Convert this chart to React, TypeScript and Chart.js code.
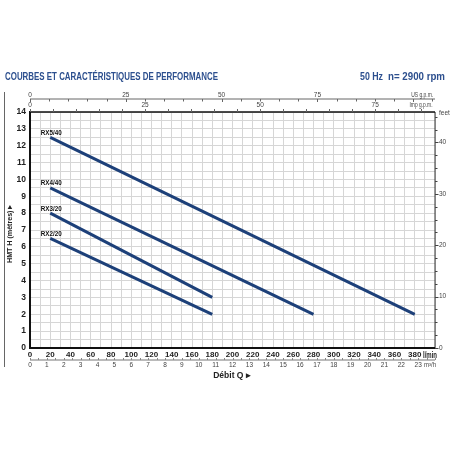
import React, { useEffect, useRef } from 'react';
import { Chart, registerables } from 'chart.js';

Chart.register(...registerables);

// Pump models and their straight-line H/Q curves (flow in l/min, head in metres)
const modelNames = ['RX5/40', 'RX4/40', 'RX3/20', 'RX2/20'];
const rx540Flow = [20, 380];
const rx540Head = [12.5, 2];
const rx440Flow = [20, 280];
const rx440Head = [9.5, 2];
const rx320Flow = [20, 180];
const rx320Head = [8, 3];
const rx220Flow = [20, 180];
const rx220Head = [6.5, 2];

// Secondary scale labels
const usGpmLabels = [0, 25, 50, 75];
const impGpmLabels = [0, 25, 50, 75];
const m3hLabels = [0, 1, 2, 3, 4, 5, 6, 7, 8, 9, 10, 11, 12, 13, 14, 15, 16, 17, 18, 19, 20, 21, 22, 23];
const feetLabels = [0, 10, 20, 30, 40];

// Unit conversions
const L_PER_US_GAL = 3.785;
const L_PER_IMP_GAL = 4.546;
const LMIN_PER_M3H = 1000 / 60;
const M_PER_FT = 0.3048;

const FLOW_MAX = 400;
const HEAD_MAX = 14;

const NARROW = '"Liberation Sans Narrow", "Liberation Sans", Arial, sans-serif';
const SANS = '"Liberation Sans", Arial, sans-serif';
const LINE_COLOR = '#1d4079';
const TITLE_COLOR = '#2c4f8e';
const GRID_COLOR = '#d6d6d6';

const series = [
  { flow: rx540Flow, head: rx540Head },
  { flow: rx440Flow, head: rx440Head },
  { flow: rx320Flow, head: rx320Head },
  { flow: rx220Flow, head: rx220Head },
];

function text(
  ctx: CanvasRenderingContext2D,
  s: string,
  x: number,
  y: number,
  font: string,
  color: string,
  align: CanvasTextAlign = 'center',
  maxWidth?: number
) {
  ctx.font = font;
  ctx.fillStyle = color;
  ctx.textAlign = align;
  ctx.textBaseline = 'middle';
  if (maxWidth) ctx.fillText(s, x, y, maxWidth);
  else ctx.fillText(s, x, y);
}

function hline(ctx: CanvasRenderingContext2D, x1: number, x2: number, y: number, w: number, c: string) {
  ctx.beginPath();
  ctx.strokeStyle = c;
  ctx.lineWidth = w;
  ctx.moveTo(x1, y);
  ctx.lineTo(x2, y);
  ctx.stroke();
}

function vline(ctx: CanvasRenderingContext2D, x: number, y1: number, y2: number, w: number, c: string) {
  ctx.beginPath();
  ctx.strokeStyle = c;
  ctx.lineWidth = w;
  ctx.moveTo(x, y1);
  ctx.lineTo(x, y2);
  ctx.stroke();
}

const framePlugin = {
  id: 'frame',
  beforeDatasetsDraw(chart: any) {
    const { ctx, chartArea: a } = chart;
    ctx.save();
    vline(ctx, a.right, a.top, a.bottom, 1, '#333');
    hline(ctx, a.left - 1, a.right, a.top, 1.5, '#111');
    hline(ctx, a.left - 1, a.right, a.bottom, 2, '#111');
    vline(ctx, a.left, a.top - 1, a.bottom + 1, 2, '#111');
    ctx.restore();
  },
};

const extraAxesPlugin = {
  id: 'extraAxes',
  afterDraw(chart: any) {
    const { ctx, chartArea: a } = chart;
    const xs = chart.scales.x;
    const ys = chart.scales.y;
    const px = (lmin: number) => xs.getPixelForValue(lmin);
    const py = (m: number) => ys.getPixelForValue(m);
    const small = `6.5px ${NARROW}`;
    const smallColor = '#444';

    ctx.save();

    // Heading
    text(ctx, 'COURBES ET CARACTÉRISTIQUES DE PERFORMANCE', 5, 77, `bold 10.5px ${NARROW}`, TITLE_COLOR, 'left', 213);
    text(ctx, '50 Hz', 360, 77, `bold 10.5px ${NARROW}`, TITLE_COLOR, 'left', 23);
    text(ctx, 'n= 2900 rpm', 388, 77, `bold 10.5px ${NARROW}`, TITLE_COLOR, 'left', 57);

    // Left rule
    vline(ctx, 4.5, 92, 367, 1, '#666');

    // US g.p.m. scale
    const usY = 99;
    hline(ctx, a.left, a.right, usY, 1, '#666');
    for (let g = 0; g * L_PER_US_GAL <= FLOW_MAX; g += 5) {
      const x = Math.round(px(g * L_PER_US_GAL)) + 0.5;
      vline(ctx, x, usY, usY + (g % 25 === 0 ? 3 : 2.5), 1, '#666');
    }
    usGpmLabels.forEach((g) => text(ctx, String(g), px(g * L_PER_US_GAL), usY - 4, small, smallColor));
    text(ctx, 'US g.p.m.', px(100 * L_PER_US_GAL) + 9, usY - 4, small, smallColor, 'center', 22);

    // Imp g.p.m. scale
    for (let g = 0; g * L_PER_IMP_GAL <= FLOW_MAX; g += 5) {
      const x = Math.round(px(g * L_PER_IMP_GAL)) + 0.5;
      vline(ctx, x, a.top, a.top - 3, 1, '#666');
    }
    impGpmLabels.forEach((g) => text(ctx, String(g), px(g * L_PER_IMP_GAL), a.top - 6.5, small, smallColor));
    text(ctx, 'Imp g.p.m.', 421, a.top - 6.5, small, smallColor, 'center', 23);

    // m3/h scale
    const mY = 360;
    hline(ctx, a.left, a.right, mY, 1, '#777');
    for (let q = 0; q * LMIN_PER_M3H <= FLOW_MAX; q += 0.5) {
      const x = Math.round(px(q * LMIN_PER_M3H)) + 0.5;
      vline(ctx, x, mY, mY - 2, 1, '#888');
    }
    m3hLabels.forEach((q) => text(ctx, String(q), px(q * LMIN_PER_M3H), mY + 5.5, small, smallColor));
    text(ctx, 'm³/h', 430, mY + 5.5, small, smallColor, 'center', 12);

    // l/min unit on the main flow axis
    text(ctx, 'l/min', px(FLOW_MAX) - 5, 355.5, `bold 8.5px ${NARROW}`, '#222', 'center', 14);

    // Feet scale on the right edge
    const ftMax = HEAD_MAX / M_PER_FT;
    for (let f = 0; f <= ftMax; f += 2.5) {
      const y = Math.round(py(f * M_PER_FT)) + 0.5;
      hline(ctx, a.right, a.right + (f % 10 === 0 ? 3.5 : 2.5), y, 1, '#444');
    }
    feetLabels.forEach((f) => text(ctx, String(f), a.right + 4, py(f * M_PER_FT), small, smallColor, 'left'));
    text(ctx, 'feet', a.right + 4, a.top + 1, small, smallColor, 'left');

    // Axis titles
    text(ctx, 'Débit Q ▸', 232, 376, `bold 8.5px ${SANS}`, '#222', 'center', 38);
    ctx.translate(10, 234);
    ctx.rotate(-Math.PI / 2);
    text(ctx, 'HMT H (mètres) ▸', 0, 0, `bold 8px ${SANS}`, '#222', 'center', 58);
    ctx.setTransform(1, 0, 0, 1, 0, 0);

    // Curve names beside the start of each curve
    modelNames.forEach((name, i) => {
      const pt = chart.getDatasetMeta(i).data[0];
      text(ctx, name, pt.x - 9.5, pt.y - 4.5, `bold 7.5px ${NARROW}`, '#111', 'left', 21);
    });

    ctx.restore();
  },
};

function PerformanceChart() {
  const canvasRef = useRef<HTMLCanvasElement | null>(null);

  useEffect(() => {
    if (!canvasRef.current) return;
    const chart = new Chart(canvasRef.current, {
      type: 'line',
      data: {
        datasets: series.map((s, i) => ({
          label: modelNames[i],
          data: s.flow.map((q, k) => ({ x: q, y: s.head[k] })),
          borderColor: LINE_COLOR,
          borderWidth: 3,
          pointRadius: 0,
          fill: false,
          tension: 0,
        })),
      },
      options: {
        animation: false,
        responsive: true,
        maintainAspectRatio: false,
        layout: { padding: { left: 0, top: 112, right: 17, bottom: 84 } },
        plugins: {
          legend: { display: false },
          tooltip: { enabled: false },
        },
        scales: {
          x: {
            type: 'linear',
            min: 0,
            max: FLOW_MAX,
            border: { display: false },
            grid: { color: GRID_COLOR, lineWidth: 1, drawTicks: false },
            ticks: {
              stepSize: 10,
              autoSkip: false,
              maxRotation: 0,
              padding: 2,
              color: '#222',
              font: { family: NARROW, size: 8, weight: 'bold' },
              callback: (v: any) => (v % 20 === 0 && v < FLOW_MAX ? String(v) : ''),
            },
            afterFit: (s: any) => {
              s.height = 20;
            },
          },
          y: {
            type: 'linear',
            min: 0,
            max: HEAD_MAX,
            border: { display: false },
            grid: { color: GRID_COLOR, lineWidth: 1, drawTicks: false },
            ticks: {
              stepSize: 0.5,
              autoSkip: false,
              padding: 4,
              color: '#222',
              font: { family: NARROW, size: 8.5, weight: 'bold' },
              callback: (v: any) => (Number.isInteger(v) ? String(v) : ''),
            },
            afterFit: (s: any) => {
              s.width = 30;
            },
          },
        },
      } as any,
      plugins: [framePlugin, extraAxesPlugin],
    });
    return () => chart.destroy();
  }, []);

  return (
    <div style={{ position: 'absolute', left: 0, top: 0, width: 452, height: 452, background: '#fff' }}>
      <canvas ref={canvasRef} />
    </div>
  );
}

export default function App() {
  return <PerformanceChart />;
}
